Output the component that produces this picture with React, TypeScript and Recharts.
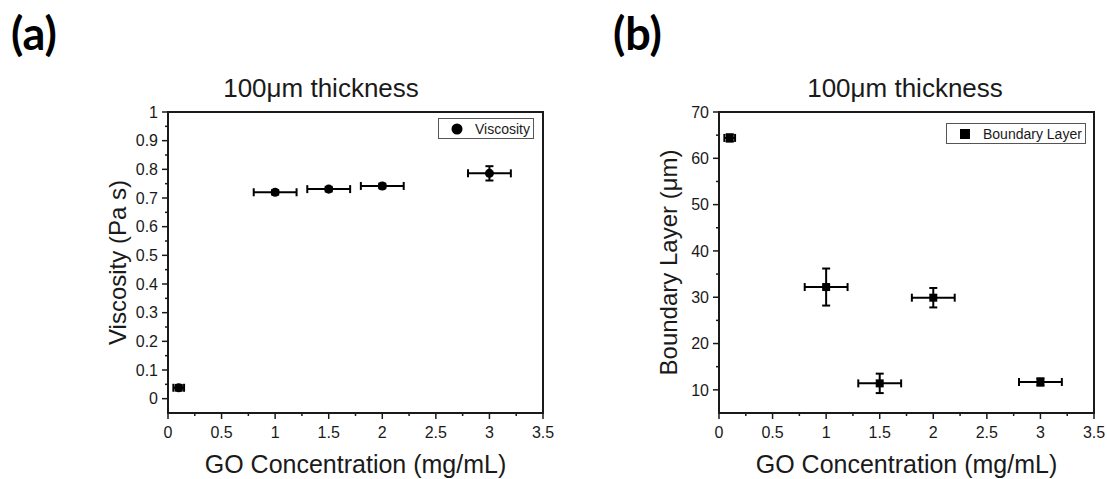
import React from "react"
import {
  ScatterChart,
  Scatter,
  XAxis,
  YAxis,
  ZAxis,
  ErrorBar,
  Legend,
  ReferenceArea,
} from "recharts"

// GO concentration (mg/mL) and its spread
const concentration = [0.1, 1, 1.5, 2, 3]
const concentrationErr = [0.05, 0.2, 0.2, 0.2, 0.2]

// (a) viscosity, Pa s
const viscosity = [0.038, 0.72, 0.731, 0.742, 0.786]
const viscosityErr = [0.01, 0.008, 0.008, 0.008, 0.025]

// (b) boundary layer, um
const boundaryLayer = [64.4, 32.2, 11.4, 29.9, 11.7]
const boundaryLayerErr = [0.8, 4, 2.1, 2.1, 0.8]

const xTicks = [0, 0.25, 0.5, 0.75, 1, 1.25, 1.5, 1.75, 2, 2.25, 2.5, 2.75, 3, 3.25, 3.5]
const xMajor = [0, 0.5, 1, 1.5, 2, 2.5, 3, 3.5]
const viscTicks = [
  0, 0.05, 0.1, 0.15, 0.2, 0.25, 0.3, 0.35, 0.4, 0.45, 0.5, 0.55, 0.6, 0.65, 0.7, 0.75, 0.8,
  0.85, 0.9, 0.95, 1,
]
const viscMajor = [0, 0.1, 0.2, 0.3, 0.4, 0.5, 0.6, 0.7, 0.8, 0.9, 1]
const blTicks = [10, 15, 20, 25, 30, 35, 40, 45, 50, 55, 60, 65, 70]
const blMajor = [10, 20, 30, 40, 50, 60, 70]

const INK = "#1a1a1a"
const FONT = "'Liberation Sans', Arial, sans-serif"

const viscData = concentration.map((x, i) => ({
  x,
  y: viscosity[i],
  ex: concentrationErr[i],
  ey: viscosityErr[i],
}))
const blData = concentration.map((x, i) => ({
  x,
  y: boundaryLayer[i],
  ex: concentrationErr[i],
  ey: boundaryLayerErr[i],
}))

const makeXTick = (major: number[]) => (props: any) => {
  const { x, y, payload } = props
  const isMajor = major.includes(payload.value)
  return (
    <g>
      <line x1={x} x2={x} y1={y} y2={y + (isMajor ? 6 : 3)} stroke={INK} strokeWidth={1.5} />
      {isMajor && (
        <text x={x} y={y + 25} textAnchor="middle" fontSize={16} fontFamily={FONT} fill={INK}>
          {payload.value}
        </text>
      )}
    </g>
  )
}

const makeYTick = (major: number[]) => (props: any) => {
  const { x, y, payload } = props
  const isMajor = major.includes(payload.value)
  return (
    <g>
      <line x1={x} x2={x - (isMajor ? 6 : 3)} y1={y} y2={y} stroke={INK} strokeWidth={1.5} />
      {isMajor && (
        <text x={x - 10} y={y} dy="0.36em" textAnchor="end" fontSize={16} fontFamily={FONT} fill={INK}>
          {payload.value}
        </text>
      )}
    </g>
  )
}

function LegendBox({ payload, width, shape }: any) {
  const name = payload && payload[0] ? payload[0].value : ""
  return (
    <div
      style={{
        width,
        height: 21,
        border: "1px solid #555",
        boxSizing: "border-box",
        display: "flex",
        alignItems: "center",
        fontFamily: FONT,
        fontSize: 14,
        color: INK,
        background: "#fff",
        whiteSpace: "nowrap",
      }}
    >
      <svg width={36} height={18} style={{ flex: "none" }}>
        {shape === "circle" ? (
          <circle cx={18} cy={9} r={5.5} fill="#000" />
        ) : (
          <rect x={13} y={4} width={10} height={10} fill="#000" />
        )}
      </svg>
      <span>{name}</span>
    </div>
  )
}

interface PanelProps {
  left: number
  data: { x: number; y: number; ex: number; ey: number }[]
  name: string
  shape: "circle" | "square"
  yDomain: [number, number]
  yTicks: number[]
  yMajor: number[]
  yLabel: string
  legendLeft: number
  legendTop: number
  legendWidth: number
}

function Panel(p: PanelProps) {
  return (
    <div style={{ position: "absolute", left: p.left, top: 0 }}>
      <ScatterChart width={556} height={479} margin={{ top: 112, right: 13, bottom: 0, left: 108 }}>
        <XAxis
          type="number"
          dataKey="x"
          domain={[0, 3.5]}
          ticks={xTicks}
          interval={0}
          height={66}
          tickSize={0}
          tickMargin={0}
          tickLine={false}
          axisLine={{ stroke: INK, strokeWidth: 2 }}
          tick={makeXTick(xMajor)}
          label={{
            value: "GO Concentration (mg/mL)",
            position: "insideBottom",
            offset: 6,
            style: { fontSize: 25, fontFamily: FONT, fill: INK },
          }}
        />
        <YAxis
          type="number"
          dataKey="y"
          domain={p.yDomain}
          ticks={p.yTicks}
          interval={0}
          width={60}
          tickSize={0}
          tickMargin={0}
          tickLine={false}
          axisLine={{ stroke: INK, strokeWidth: 2 }}
          tick={makeYTick(p.yMajor)}
          label={{
            value: p.yLabel,
            angle: -90,
            position: "insideLeft",
            offset: 9,
            style: { fontSize: 24, fontFamily: FONT, fill: INK, textAnchor: "middle" },
          }}
        />
        <ZAxis range={[115, 115]} />
        {/* plot frame: top and right edges */}
        <ReferenceArea
          x1={0}
          x2={3.5}
          y1={p.yDomain[0]}
          y2={p.yDomain[1]}
          fill="none"
          stroke={INK}
          strokeWidth={2}
          strokeOpacity={1}
          ifOverflow="visible"
        />
        <Legend
          layout="horizontal"
          verticalAlign="middle"
          align="center"
          wrapperStyle={{ left: p.legendLeft, top: p.legendTop, width: p.legendWidth }}
          content={(props: any) => (
            <LegendBox payload={props.payload} width={p.legendWidth} shape={p.shape} />
          )}
        />
        <Scatter
          name={p.name}
          data={p.data}
          fill="#000"
          shape={p.shape}
          isAnimationActive={false}
        >
          <ErrorBar dataKey="ex" direction="x" width={4} stroke="#000" strokeWidth={2} isAnimationActive={false} />
          <ErrorBar dataKey="ey" direction="y" width={4} stroke="#000" strokeWidth={2} isAnimationActive={false} />
        </Scatter>
      </ScatterChart>
    </div>
  )
}

export default function App() {
  return (
    <div
      style={{
        position: "absolute",
        left: 0,
        top: 0,
        width: 1107,
        height: 479,
        background: "#fff",
        overflow: "hidden",
      }}
    >
      <Panel
        left={0}
        data={viscData}
        name="Viscosity"
        shape="circle"
        yDomain={[-0.05, 1]}
        yTicks={viscTicks}
        yMajor={viscMajor}
        yLabel="Viscosity (Pa s)"
        legendLeft={438}
        legendTop={118}
        legendWidth={96}
      />
      <Panel
        left={551}
        data={blData}
        name="Boundary Layer"
        shape="square"
        yDomain={[5, 70]}
        yTicks={blTicks}
        yMajor={blMajor}
        yLabel="Boundary Layer (μm)"
        legendLeft={395}
        legendTop={123}
        legendWidth={140}
      />
      <svg
        width={1107}
        height={479}
        style={{ position: "absolute", left: 0, top: 0, pointerEvents: "none" }}
      >
        <text x={11} y={50} fontSize={45} fontWeight={700} fontFamily="Lato, sans-serif" fill="#000">
          (a)
        </text>
        <text x={613} y={50} fontSize={45} fontWeight={700} fontFamily="Lato, sans-serif" fill="#000">
          (b)
        </text>
        <text x={321} y={97} textAnchor="middle" fontSize={26} fontFamily={FONT} fill={INK}>
          100μm thickness
        </text>
        <text x={905} y={97} textAnchor="middle" fontSize={26} fontFamily={FONT} fill={INK}>
          100μm thickness
        </text>
      </svg>
    </div>
  )
}
